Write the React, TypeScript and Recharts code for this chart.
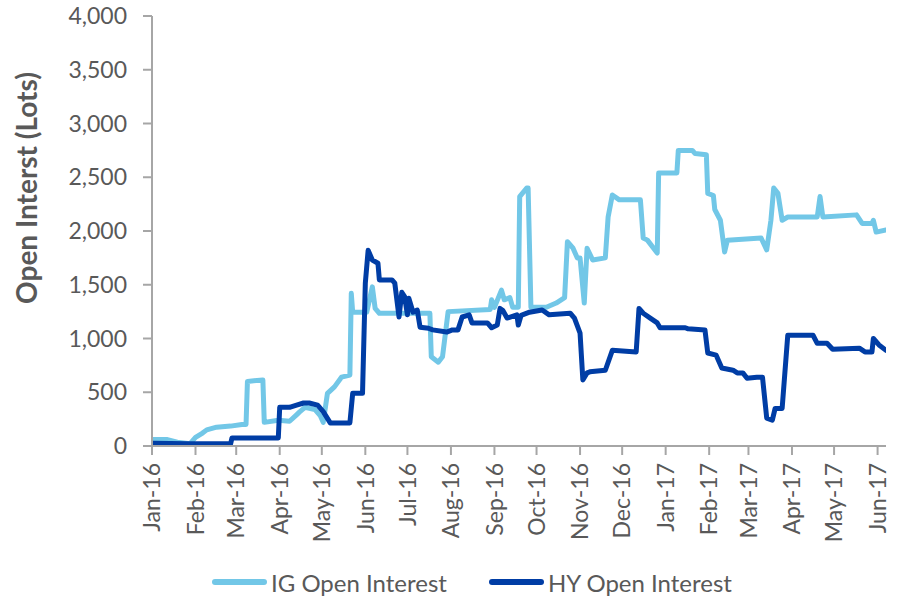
import React from 'react';
import { Legend, Line, LineChart, XAxis, YAxis } from 'recharts';

// days counted from 1 Jan 2016
const monthTicks = [0, 31, 60, 91, 121, 152, 182, 213, 244, 274, 305, 335, 366, 397, 425, 456, 486, 517];
const monthLabels = [
  'Jan-16', 'Feb-16', 'Mar-16', 'Apr-16', 'May-16', 'Jun-16', 'Jul-16', 'Aug-16', 'Sep-16',
  'Oct-16', 'Nov-16', 'Dec-16', 'Jan-17', 'Feb-17', 'Mar-17', 'Apr-17', 'May-17', 'Jun-17',
];
const yTicks = [0, 500, 1000, 1500, 2000, 2500, 3000, 3500, 4000];

const igDays = [
  0, 11, 18, 27, 31, 36, 39, 46, 56, 64, 67, 68, 79, 80, 90, 98, 103, 105, 109, 116,
  120, 122, 125, 130, 135, 141, 142, 143, 153, 157, 159, 162, 198, 199, 204, 207, 211, 241, 242, 244,
  249, 251, 255, 257, 261, 262, 267, 268, 270, 281, 288, 294, 296, 300, 303, 305, 308, 310, 314, 323,
  325, 328, 333, 348, 350, 353, 360, 361, 374, 375, 385, 387, 395, 396, 400, 401, 405, 408, 410, 434,
  438, 441, 443, 446, 449, 453, 474, 476, 478, 502, 506, 513, 514, 516, 523,
];
const igValues = [
  60, 60, 35, 20, 80, 120, 150, 175, 185, 200, 200, 600, 615, 220, 240, 230, 290, 315, 360, 340,
  280, 220, 490, 550, 640, 660, 1420, 1245, 1245, 1480, 1280, 1235, 1235, 830, 780, 830, 1250, 1270, 1360, 1290,
  1450, 1360, 1380, 1290, 1290, 2320, 2400, 2400, 1290, 1290, 1330, 1380, 1900, 1840, 1750, 1750, 1330, 1840, 1730, 1750,
  2130, 2335, 2290, 2290, 1935, 1915, 1795, 2540, 2540, 2750, 2750, 2720, 2710, 2350, 2330, 2200, 2100, 1805, 1915, 1935,
  1825, 2100, 2400, 2350, 2100, 2130, 2130, 2320, 2130, 2150, 2070, 2070, 2100, 1990, 2010,
];

const hyDays = [
  0, 26, 56, 57, 90, 91, 98, 103, 108, 112, 118, 122, 127, 141, 143, 150, 152, 154, 157, 161,
  162, 171, 173, 176, 178, 180, 182, 183, 186, 189, 191, 197, 200, 210, 214, 218, 221, 226, 228, 239,
  242, 246, 248, 250, 253, 260, 261, 263, 269, 278, 283, 298, 301, 305, 307, 310, 312, 323, 328, 345,
  347, 350, 355, 360, 362, 380, 382, 394, 396, 402, 406, 414, 417, 421, 424, 431, 435, 438, 442, 444,
  449, 453, 471, 474, 481, 485, 504, 508, 513, 514, 518, 523,
];
const hyValues = [
  25, 20, 20, 75, 75, 360, 360, 380, 400, 400, 380, 320, 215, 215, 490, 490, 1515, 1820, 1730, 1700,
  1545, 1545, 1515, 1200, 1430, 1390, 1220, 1375, 1245, 1265, 1105, 1095, 1080, 1060, 1080, 1080, 1200, 1220, 1145, 1145,
  1100, 1125, 1280, 1260, 1190, 1220, 1125, 1215, 1245, 1265, 1220, 1235, 1190, 1050, 615, 680, 690, 705, 890, 875,
  1280, 1235, 1190, 1145, 1100, 1100, 1090, 1080, 865, 845, 725, 705, 680, 680, 630, 640, 640, 260, 240, 350,
  350, 1030, 1030, 955, 955, 900, 910, 875, 875, 1000, 940, 890,
];

const igData = igDays.map((day, i) => ({ day, value: igValues[i] }));
const hyData = hyDays.map((day, i) => ({ day, value: hyValues[i] }));

const IG_COLOR = '#72C7E7';
const HY_COLOR = '#003DA5';
const TEXT = '#595959';
const AXIS = '#A6A6A6';
const FONT = 'Lato, "Open Sans", sans-serif';

function MonthTick(props: any) {
  const { x, y, payload } = props;
  const idx = monthTicks.indexOf(payload.value);
  return (
    <text
      x={x}
      y={y}
      dy="0.36em"
      transform={`rotate(-90, ${x}, ${y})`}
      textAnchor="end"
      fill={TEXT}
      fontSize={23}
      fontFamily={FONT}
    >
      {monthLabels[idx]}
    </text>
  );
}

function AxisTitle(props: any) {
  const vb = props.viewBox || { x: 0, y: 16, height: 430 };
  const cx = vb.x + 37;
  const cy = vb.y + vb.height / 2 - 43;
  return (
    <text
      x={cx}
      y={cy}
      transform={`rotate(-90, ${cx}, ${cy})`}
      textAnchor="middle"
      fill={TEXT}
      fontSize={28}
      fontWeight="bold"
      fontFamily={FONT}
    >
      Open Interst (Lots)
    </text>
  );
}

function LegendContent() {
  const swatch = (color: string) => (
    <span style={{ display: 'inline-block', width: 55, height: 6, borderRadius: 3, background: color }} />
  );
  return (
    <div style={{ display: 'flex', alignItems: 'center', height: 34, fontFamily: FONT, fontSize: 24, color: TEXT }}>
      {swatch(IG_COLOR)}
      <span style={{ marginLeft: 4 }}>IG Open Interest</span>
      <span style={{ marginLeft: 42, display: 'flex', alignItems: 'center' }}>{swatch(HY_COLOR)}</span>
      <span style={{ marginLeft: 4 }}>HY Open Interest</span>
    </div>
  );
}

export default function App() {
  return (
    <div style={{ position: 'absolute', left: 0, top: 0, width: 902, height: 599, background: '#fff' }}>
      <LineChart width={902} height={599} margin={{ top: 16, right: 16, bottom: 0, left: 0 }}>
        <XAxis
          type="number"
          dataKey="day"
          domain={[0, 523]}
          ticks={monthTicks}
          interval={0}
          allowDataOverflow
          tick={<MonthTick />}
          tickSize={9}
          tickMargin={8}
          height={119}
          stroke={AXIS}
          strokeWidth={2}
        />
        <YAxis
          type="number"
          domain={[0, 4000]}
          ticks={yTicks}
          interval={0}
          width={152}
          tickSize={9}
          tickMargin={16}
          tickFormatter={(v: number) => v.toLocaleString('en-US')}
          tick={{ fill: TEXT, fontSize: 23, fontFamily: FONT }}
          stroke={AXIS}
          strokeWidth={2}
          label={{ content: AxisTitle }}
        />
        <Legend verticalAlign="bottom" content={LegendContent} wrapperStyle={{ left: 212, width: 620, height: 34 }} />
        <Line
          data={igData}
          dataKey="value"
          name="IG Open Interest"
          type="linear"
          stroke={IG_COLOR}
          strokeWidth={5}
          strokeLinejoin="round"
          strokeLinecap="round"
          dot={false}
          isAnimationActive={false}
        />
        <Line
          data={hyData}
          dataKey="value"
          name="HY Open Interest"
          type="linear"
          stroke={HY_COLOR}
          strokeWidth={5}
          strokeLinejoin="round"
          strokeLinecap="round"
          dot={false}
          isAnimationActive={false}
        />
      </LineChart>
    </div>
  );
}
